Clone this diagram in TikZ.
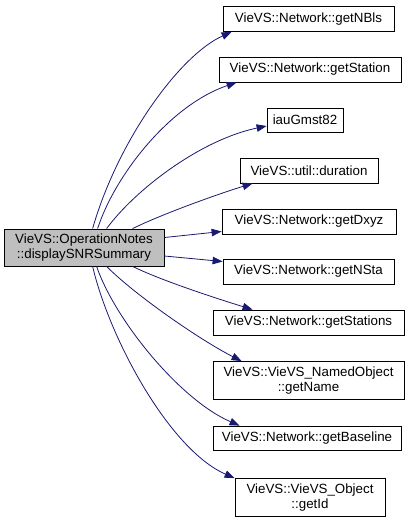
\documentclass[tikz,border=0pt]{standalone}
\usepackage{fontspec}
\setmainfont{Liberation Sans}
\usetikzlibrary{calc,arrows.meta}
\definecolor{edgeblue}{HTML}{191970}
\definecolor{maingray}{HTML}{BFBFBF}
\tikzset{
  fn/.style={draw=black, line width=0.8pt, fill=white, inner sep=0pt, align=center,
    font=\fontsize{13.33}{15.5}\selectfont},
  mainfn/.style={fn, fill=maingray},
  call/.style={draw=edgeblue, line width=0.8pt, -{Triangle[length=10pt,width=7.5pt]}}
}
\begin{document}
\begin{tikzpicture}[x=1pt,y=-1pt]
\useasboundingbox (0,0) rectangle (411,524);
\node[mainfn, minimum width=160pt, minimum height=37pt] (m) at (84,247.5) {VieVS::OperationNotes\\::displaySNRSummary};
\node[fn, minimum width=171pt, minimum height=25pt] (n1) at (308.5,19) {VieVS::Network::getNBls};
\node[fn, minimum width=182pt, minimum height=25pt] (n2) at (310,69.5) {VieVS::Network::getStation};
\node[fn, minimum width=76pt, minimum height=24pt] (n3) at (305,120) {iauGmst82};
\node[fn, minimum width=138pt, minimum height=25pt] (n4) at (309,170.5) {VieVS::util::duration};
\node[fn, minimum width=174pt, minimum height=25pt] (n5) at (309,221.5) {VieVS::Network::getDxyz};
\node[fn, minimum width=171pt, minimum height=25pt] (n6) at (308.5,271.5) {VieVS::Network::getNSta};
\node[fn, minimum width=191pt, minimum height=25pt] (n7) at (308.5,322.5) {VieVS::Network::getStations};
\node[fn, minimum width=191pt, minimum height=38pt] (n8) at (308.5,380.5) {VieVS::VieVS\_NamedObject\\::getName};
\node[fn, minimum width=188pt, minimum height=24pt] (n9) at (307,438) {VieVS::Network::getBaseline};
\node[fn, minimum width=150pt, minimum height=38pt] (n10) at (310,497.5) {VieVS::VieVS\_Object\\::getId};

\draw[call] ($(m.north west)+(89,0)$) .. controls (118,140) and (180,55) .. ($(n1.south west)+(9,0)$);
\draw[call] ($(m.north west)+(94,0)$) .. controls (115,175) and (170,105) .. ($(n2.south west)+(18,0)$);
\draw[call] ($(m.north west)+(103,0)$) .. controls (135,190) and (200,140) .. ($(n3.west)+(0,6)$);
\draw[call] ($(m.north west)+(129,0)$) .. controls (160,215) and (215,195) .. ($(n4.south west)+(13,0)$);
\draw[call] ($(m.east)+(0,-10)$) -- ($(n5.west)+(0,10)$);
\draw[call] ($(m.east)+(0,8.5)$) -- ($(n6.west)+(0,-10)$);
\draw[call] ($(m.south west)+(129,0)$) .. controls (160,280) and (215,298) .. ($(n7.north west)+(40,0)$);
\draw[call] ($(m.south west)+(103,0)$) .. controls (135,295) and (200,340) .. ($(n8.north west)+(29,0)$);
\draw[call] ($(m.south west)+(93,0)$) .. controls (115,320) and (180,400) .. ($(n9.north west)+(27,0)$);
\draw[call] ($(m.south west)+(89,0)$) .. controls (110,340) and (170,450) .. ($(n10.north west)+(0,0)$);
\end{tikzpicture}
\end{document}
